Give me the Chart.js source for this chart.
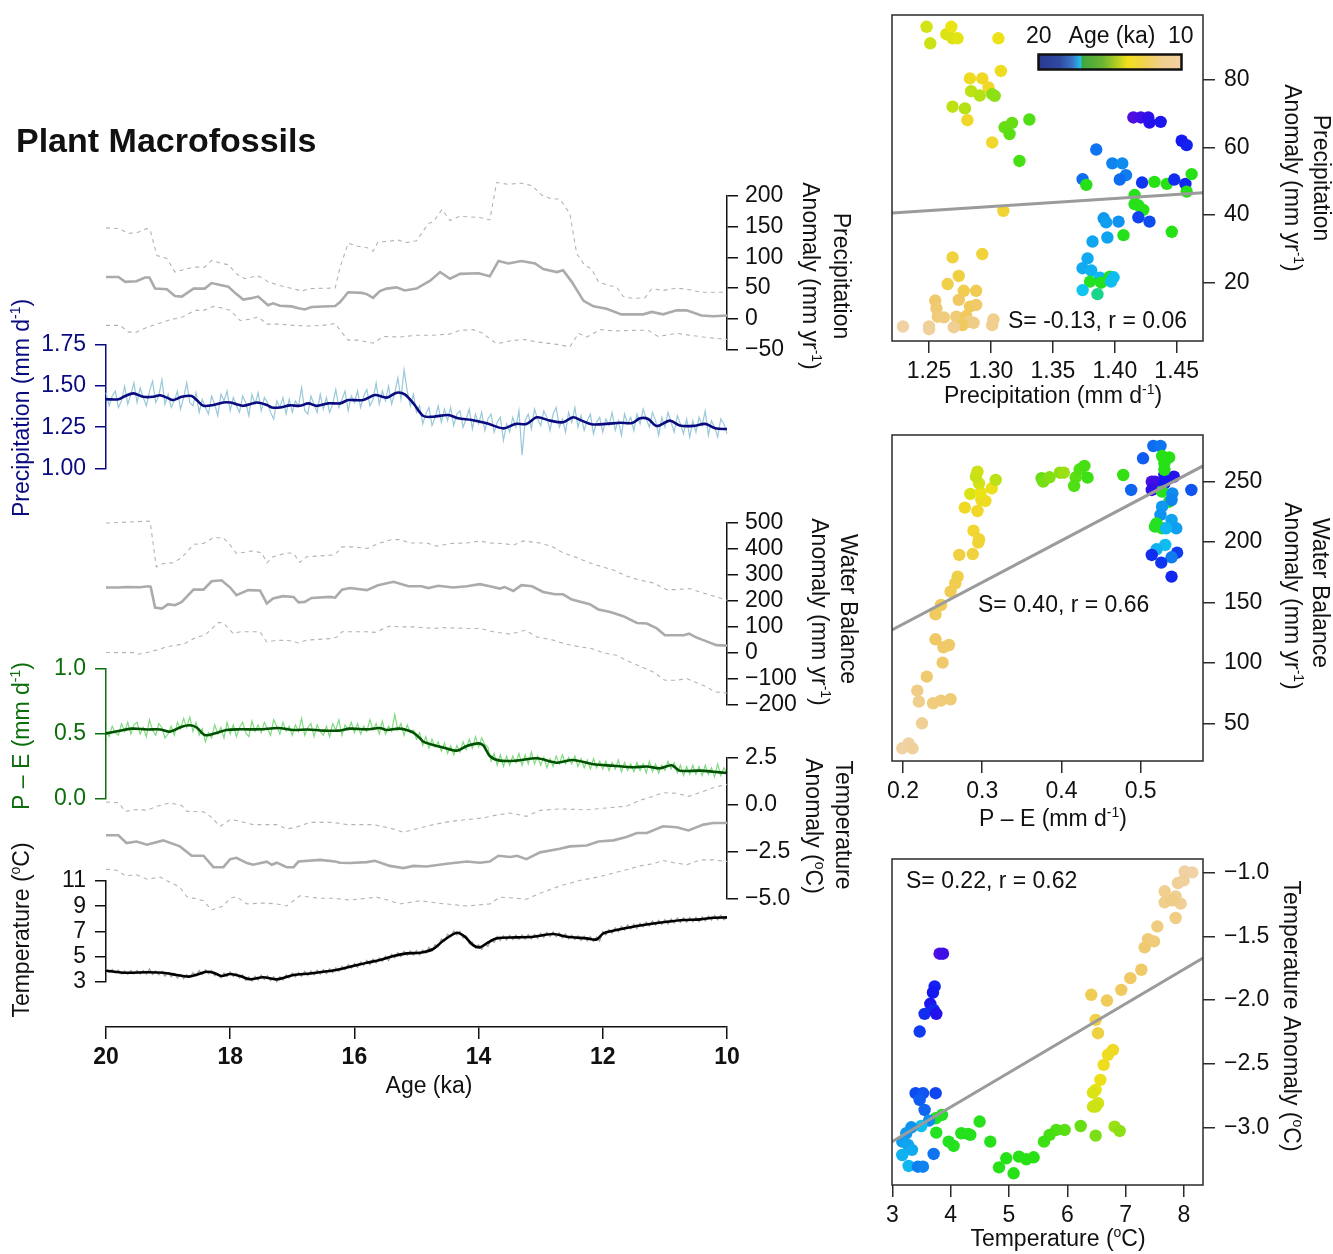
<!DOCTYPE html>
<html>
<head>
<meta charset="utf-8">
<script src="https://cdn.jsdelivr.net/npm/chart.js@4.4.0/dist/chart.umd.min.js"></script>
<style>
  html, body { margin: 0; background: #fff; }
  #page { position: relative; width: 1333px; height: 1254px; overflow: hidden; background: #fff; }
  #page canvas { position: absolute; left: 0; }
</style>
</head>
<body>
<div id="page"></div>
<script>
// ---- time axis ----
const ageTicks = [20, 18, 16, 14, 12, 10];
// noisy series are sampled every 50 yr from 20 ka to 10 ka
const noisyAge = Array.from({ length: 201 }, (_, i) => +(20 - i * 0.05).toFixed(2));

// ---- precipitation anomaly (mm/yr) ----
const precipAnomTicks = [200, 150, 100, 50, 0, -50];
const precipAnomAge = [20.00,19.80,19.69,19.51,19.37,19.30,19.21,19.02,18.89,18.78,18.59,18.41,18.30,18.16,18.03,17.90,17.79,17.68,17.55,17.39,17.31,17.20,17.01,16.90,16.80,16.69,16.31,16.23,16.10,15.88,15.80,15.70,15.59,15.48,15.32,15.19,15.00,14.78,14.62,14.46,14.30,14.00,13.82,13.68,13.52,13.31,13.09,12.96,12.74,12.64,12.50,12.31,12.15,11.94,11.70,11.35,11.21,11.03,10.81,10.65,10.41,10.22,10.00];
const precipAnomMean = [68,68,60,61,67,67,49,48,37,36,49,49,58,55,52,40,31,33,36,22,25,21,20,17,15,19,20.5,27,43,42,40,34,45,49,51,46,49,62,76,65,73,74,69,94,90,94,90,81,76,79,60,29,20,16,7,7,11,7,13.5,13.5,5,4,5];
const precipAnomHiAge = [20.00,19.80,19.64,19.51,19.34,19.29,19.18,19.02,18.89,18.78,18.59,18.41,18.30,18.14,18.03,17.90,17.76,17.57,17.47,17.39,17.20,17.04,16.85,16.71,16.31,16.23,16.10,15.94,15.80,15.70,15.62,15.48,15.29,15.16,15.00,14.81,14.73,14.59,14.46,14.30,13.98,13.82,13.71,13.52,13.33,13.14,12.98,12.82,12.69,12.53,12.42,12.29,12.18,12.07,11.91,11.78,11.67,11.51,11.32,11.21,11.03,10.81,10.60,10.41,10.00];
const precipAnomHi = [148,147,139,140,147,145,103,98,76,79,84,84,95,90,88,73,65,70,66,60,54,50,45,49,50,84,123,118,116,110,125,126,128,124,127,155,158,178,160,167,165,161,222,219,221,217,201,195,195,171,106,87,81,60,54,52,36,33,34,49,46,50,47,43,43];
const precipAnomLoAge = [20.00,19.77,19.64,19.51,19.34,19.18,18.97,18.76,18.57,18.43,18.27,18.16,18.00,17.84,17.68,17.55,17.41,17.20,16.98,16.77,16.50,16.31,16.23,16.10,15.94,15.70,15.53,15.27,15.00,14.73,14.46,14.30,14.09,13.95,13.71,13.49,13.25,13.06,12.74,12.53,12.39,12.26,12.04,11.83,11.45,11.27,11.11,10.81,10.60,10.38,10.00];
const precipAnomLo = [-11,-11,-22,-22,-14,-9,-2,3,13.5,13.5,20,18,13.5,-3,-1,3,-9,-9,-11,-12,-11,-8,-19,-35,-35,-40,-29,-30,-27,-27,-25,-19,-18,-23,-41,-36,-34,-38,-42,-46,-24,-30,-18,-20,-19,-19,-29,-24,-27,-30,-34];

// ---- precipitation (mm/d) ----
const precipTicks = [1.75, 1.50, 1.25, 1.00];
const precipSmoothAge = [20.00,19.80,19.69,19.56,19.40,19.24,19.13,19.02,18.92,18.78,18.62,18.54,18.43,18.27,18.11,18.00,17.90,17.79,17.57,17.41,17.33,17.20,17.04,16.88,16.74,16.61,16.42,16.23,16.10,15.86,15.67,15.48,15.32,15.19,15.05,14.89,14.73,14.49,14.33,14.11,13.87,13.60,13.41,13.23,13.06,12.85,12.64,12.48,12.34,12.18,11.94,11.72,11.53,11.40,11.27,11.13,10.92,10.76,10.54,10.35,10.19,10.00];
const precipSmooth = [1.42,1.42,1.44,1.456,1.435,1.435,1.444,1.43,1.415,1.435,1.44,1.415,1.38,1.385,1.40,1.40,1.39,1.38,1.40,1.385,1.37,1.37,1.383,1.38,1.395,1.38,1.395,1.395,1.415,1.415,1.446,1.43,1.46,1.45,1.395,1.318,1.314,1.324,1.304,1.294,1.274,1.243,1.27,1.27,1.31,1.29,1.28,1.31,1.29,1.268,1.27,1.277,1.275,1.304,1.30,1.257,1.29,1.26,1.258,1.27,1.243,1.239];
const precipNoisy = [
  1.46,1.38,1.44,1.47,1.37,1.41,1.50,1.39,1.45,1.52,
  1.40,1.49,1.43,1.38,1.47,1.53,1.40,1.44,1.54,1.39,
  1.45,1.37,1.41,1.47,1.36,1.43,1.52,1.40,1.38,1.46,
  1.34,1.42,1.37,1.33,1.44,1.39,1.32,1.45,1.41,1.47,
  1.35,1.43,1.38,1.34,1.44,1.40,1.32,1.45,1.39,1.46,
  1.35,1.43,1.40,1.34,1.30,1.41,1.37,1.43,1.33,1.42,
  1.34,1.41,1.38,1.49,1.35,1.33,1.44,1.39,1.34,1.45,
  1.36,1.43,1.34,1.39,1.48,1.37,1.42,1.47,1.35,1.44,
  1.40,1.47,1.37,1.44,1.48,1.38,1.42,1.52,1.39,1.47,
  1.41,1.50,1.39,1.46,1.55,1.42,1.60,1.47,1.38,1.45,
  1.34,1.38,1.27,1.33,1.37,1.26,1.31,1.38,1.28,1.36,
  1.29,1.37,1.26,1.33,1.35,1.25,1.30,1.36,1.24,1.33,
  1.27,1.34,1.23,1.30,1.33,1.22,1.28,1.31,1.17,1.27,
  1.22,1.31,1.25,1.35,1.08,1.29,1.33,1.24,1.36,1.30,
  1.26,1.35,1.31,1.23,1.33,1.37,1.25,1.30,1.22,1.34,
  1.28,1.37,1.25,1.32,1.23,1.29,1.33,1.21,1.28,1.31,
  1.22,1.30,1.26,1.34,1.23,1.29,1.20,1.33,1.27,1.31,
  1.23,1.33,1.27,1.36,1.30,1.25,1.34,1.29,1.20,1.31,
  1.25,1.34,1.28,1.22,1.32,1.27,1.21,1.30,1.19,1.29,
  1.22,1.31,1.26,1.35,1.20,1.29,1.25,1.19,1.30,1.27,
  1.21];

// ---- water balance anomaly (mm/yr) ----
const wbTicks = [500, 400, 300, 200, 100, 0, -100, -200];
const wbAge = [20.00,19.80,19.67,19.45,19.32,19.28,19.21,19.10,19.00,18.89,18.78,18.59,18.43,18.30,18.14,18.00,17.90,17.71,17.52,17.41,17.31,17.15,16.98,16.90,16.80,16.69,16.39,16.31,16.20,16.07,15.80,15.62,15.37,15.13,14.92,14.81,14.65,14.41,14.19,13.98,13.82,13.66,13.58,13.44,13.31,13.14,12.96,12.77,12.64,12.50,12.21,12.07,11.88,11.67,11.45,11.29,11.13,11.00,10.70,10.61,10.49,10.38,10.17,10.00];
const wbMean = [251,251,253,252,256,254,174,170,187,183,196,243,243,275,279,251,222,241,240,190,209,218,215,194,196,211,215,212,243,249,241,260,273,256,256,249,258,251,256,264,256,247,253,238,260,256,234,225,225,205,187,167,157,141,115,113,94,68,68,74,59,49,30,28];
const wbHiAge = [20.00,19.94,19.34,19.29,19.19,19.08,18.92,18.78,18.59,18.43,18.27,18.11,18.00,17.90,17.73,17.63,17.49,17.41,17.31,17.09,16.98,16.88,16.77,16.39,16.31,16.20,16.02,15.80,15.59,15.40,15.27,15.10,14.84,14.67,14.46,14.19,13.98,13.82,13.60,13.44,13.28,13.01,12.80,12.64,12.42,12.26,12.04,11.83,11.62,11.40,11.19,10.97,10.81,10.60,10.38,10.17,10.00];
const wbHi = [499,499,506,505,330,343,346,366,417,420,442,442,414,382,388,392,384,346,369,384,382,347,369,375,378,407,407,401,422,435,435,422,422,410,420,422,430,422,420,414,430,422,407,384,366,350,333,318,295,279,269,243,243,247,230,215,202];
const wbLoAge = [20.00,19.56,19.48,19.29,19.02,18.73,18.54,18.41,18.33,18.19,18.11,17.95,17.84,17.52,17.41,17.25,17.04,16.90,16.77,16.39,16.29,16.20,16.02,15.80,15.67,15.43,15.27,15.05,14.73,14.57,14.19,13.98,13.76,13.49,13.25,13.06,12.80,12.58,12.37,12.18,11.99,11.78,11.56,11.40,11.19,11.00,10.81,10.65,10.54,10.33,10.19,10.00];
const wbLo = [1.5,1,-5,4,23,36,61,68,85,117,115,74,81,81,42,49,47,38,49,55,60,81,81,81,79,103,100,100,94,97,94,94,81,72,87,61,49,33,23,17,0,-9,-35,-51,-73,-105,-105,-98,-110,-130,-150,-154];

// ---- P - E (mm/d) ----
const peTicks = [1.0, 0.5, 0.0];
const peSmoothAge = [20.00,19.80,19.59,19.34,19.13,18.97,18.78,18.65,18.54,18.41,18.24,18.06,17.84,17.52,17.23,16.98,16.75,16.50,16.26,16.07,15.80,15.59,15.48,15.29,15.16,15.05,14.94,14.89,14.73,14.57,14.35,14.19,14.00,13.92,13.82,13.66,13.39,13.06,12.74,12.48,12.15,11.83,11.51,11.29,11.08,10.89,10.76,10.43,10.22,10.00];
const peSmooth = [0.505,0.523,0.541,0.535,0.535,0.518,0.556,0.567,0.55,0.492,0.505,0.531,0.536,0.536,0.546,0.531,0.535,0.526,0.526,0.541,0.536,0.546,0.531,0.541,0.531,0.51,0.465,0.441,0.415,0.397,0.372,0.408,0.428,0.41,0.331,0.295,0.295,0.313,0.279,0.30,0.267,0.256,0.244,0.25,0.236,0.259,0.218,0.218,0.21,0.20];
const peNoisy = [
  .53,.48,.56,.51,.49,.58,.52,.59,.50,.57,
  .59,.50,.55,.48,.61,.53,.49,.58,.55,.47,
  .50,.56,.49,.59,.54,.62,.55,.63,.52,.59,
  .49,.54,.44,.51,.47,.57,.50,.55,.47,.59,
  .50,.57,.48,.55,.59,.51,.48,.60,.52,.57,
  .51,.59,.54,.49,.61,.56,.50,.59,.52,.56,
  .49,.57,.52,.62,.49,.55,.58,.48,.57,.52,
  .49,.56,.48,.58,.53,.61,.49,.57,.53,.59,
  .51,.58,.50,.56,.52,.61,.53,.58,.50,.60,
  .50,.56,.52,.65,.53,.58,.49,.57,.51,.53,
  .46,.51,.41,.48,.39,.46,.40,.44,.37,.43,
  .35,.41,.34,.41,.36,.44,.38,.46,.39,.48,
  .40,.47,.42,.40,.29,.35,.26,.34,.25,.33,
  .26,.33,.28,.35,.26,.34,.27,.36,.27,.33,
  .26,.32,.24,.31,.25,.33,.27,.34,.27,.32,
  .27,.33,.25,.31,.24,.30,.23,.31,.24,.29,
  .23,.29,.22,.28,.23,.30,.21,.28,.22,.27,
  .21,.28,.22,.27,.20,.29,.21,.27,.20,.26,
  .22,.29,.23,.28,.20,.26,.18,.25,.19,.26,
  .19,.25,.18,.26,.19,.24,.17,.27,.18,.24,
  .20];

// ---- temperature anomaly (deg C) ----
const tAnomTicks = [2.5, 0.0, -2.5, -5.0];
const tAnomAge = [20.00,19.80,19.67,19.51,19.34,19.08,18.81,18.62,18.43,18.27,18.11,18.00,17.90,17.73,17.63,17.41,17.33,17.25,17.09,16.98,16.90,16.55,16.31,16.23,16.07,15.80,15.67,15.43,15.21,15.05,14.84,14.51,14.19,13.98,13.82,13.68,13.49,13.38,13.23,13.01,12.69,12.53,12.26,12.07,11.83,11.62,11.45,11.29,11.03,10.81,10.62,10.38,10.22,10.00];
const tAnomMean = [-1.64,-1.64,-2.05,-1.97,-2.14,-1.91,-2.23,-2.73,-2.73,-3.34,-3.34,-2.91,-2.84,-3.12,-3.21,-3.05,-3.21,-3.1,-3.34,-3.34,-3.04,-2.95,-3.04,-3.1,-3.12,-3.07,-3.0,-3.27,-3.39,-3.27,-3.30,-3.16,-3.04,-3.1,-3.04,-2.73,-2.80,-2.73,-2.91,-2.55,-2.36,-2.23,-2.18,-1.97,-1.91,-1.73,-1.52,-1.52,-1.16,-1.21,-1.38,-1.07,-0.98,-0.98];
const tAnomHiAge = [20.00,19.80,19.69,19.51,19.34,19.18,18.97,18.78,18.70,18.43,18.33,18.16,18.00,17.90,17.63,17.25,17.09,16.93,16.71,16.34,16.12,15.70,15.43,15.21,15.05,14.95,14.73,14.46,14.19,13.92,13.76,13.49,13.23,13.01,12.69,12.26,11.94,11.62,11.40,11.19,11.03,10.81,10.62,10.38,10.17,10.00];
const tAnomHi = [0.14,0.1,-0.36,-0.27,-0.3,-0.09,0.09,-0.05,-0.36,-0.39,-0.6,-1.16,-0.80,-0.85,-1.07,-1.07,-1.30,-1.2,-0.95,-0.95,-1.07,-1.07,-1.25,-1.48,-1.34,-1.25,-1.07,-0.9,-0.80,-0.71,-0.59,-0.45,-0.63,-0.31,-0.23,-0.28,-0.18,-0.09,0.23,0.44,0.63,0.6,0.44,0.71,0.95,1.07];
const tAnomLoAge = [20.00,19.83,19.69,19.51,19.34,19.13,18.81,18.70,18.43,18.30,18.11,18.00,17.90,17.73,17.47,17.25,17.09,16.88,16.55,16.34,16.07,15.64,15.43,15.27,14.94,14.62,14.19,13.82,13.66,13.39,13.23,13.01,12.69,12.37,12.04,11.88,11.62,11.40,11.19,11.03,10.86,10.65,10.43,10.22,10.00];
const tAnomLo = [-3.45,-3.5,-3.80,-3.75,-3.98,-3.87,-4.41,-4.91,-5.13,-5.62,-5.41,-5.0,-4.91,-5.30,-5.25,-5.3,-5.41,-4.87,-5.0,-5.0,-5.09,-4.94,-5.13,-5.30,-5.13,-5.27,-5.41,-5.30,-4.94,-5.0,-5.05,-4.73,-4.34,-4.05,-3.84,-3.70,-3.48,-3.27,-3.16,-2.98,-3.1,-3.21,-2.95,-2.95,-3.04];

// ---- temperature (deg C) ----
const tempTicks = [11, 9, 7, 5, 3];
const tempSmoothAge = [20.00,19.67,19.34,19.08,18.86,18.67,18.54,18.38,18.27,18.14,18.00,17.84,17.68,17.47,17.25,16.98,16.71,16.50,16.29,16.02,15.80,15.59,15.37,15.16,14.94,14.73,14.57,14.35,14.22,14.09,13.98,13.87,13.71,13.39,13.12,12.80,12.58,12.26,12.10,11.99,11.78,11.51,11.24,10.97,10.70,10.43,10.22,10.00];
const tempSmooth = [3.87,3.71,3.75,3.71,3.53,3.40,3.55,3.79,3.72,3.45,3.61,3.45,3.19,3.35,3.19,3.53,3.65,3.79,3.93,4.25,4.51,4.72,5.04,5.25,5.30,5.60,6.25,6.89,6.57,5.91,5.73,6.05,6.44,6.52,6.57,6.79,6.57,6.44,6.36,6.84,7.10,7.37,7.58,7.76,7.90,7.95,8.08,8.11];
const tempNoisy = [
  4.02,3.72,3.98,3.68,3.92,3.60,3.86,3.58,3.90,3.62,
  3.90,3.61,3.89,3.59,4.02,3.58,3.86,3.55,3.81,3.44,
  3.72,3.39,3.66,3.30,3.58,3.24,3.57,3.34,3.72,3.49,
  3.88,3.58,3.94,3.62,3.89,3.46,3.67,3.31,3.69,3.42,
  3.78,3.41,3.68,3.29,3.55,3.10,3.38,3.04,3.44,3.14,
  3.52,3.18,3.47,3.08,3.40,2.99,3.39,3.13,3.55,3.30,
  3.69,3.37,3.73,3.44,3.82,3.47,3.85,3.54,3.92,3.60,
  3.96,3.64,4.03,3.72,4.11,3.82,4.23,3.95,4.36,4.06,
  4.44,4.13,4.56,4.28,4.69,4.36,4.79,4.49,4.89,4.60,
  5.03,4.68,5.18,4.89,5.31,4.99,5.42,5.08,5.46,5.11,
  5.48,5.13,5.53,5.27,5.73,5.44,5.94,5.77,6.39,6.22,
  6.78,6.57,7.03,6.70,6.99,6.46,6.64,6.01,6.14,5.67,
  5.93,5.56,6.00,5.80,6.33,6.12,6.60,6.27,6.65,6.31,
  6.68,6.33,6.70,6.35,6.72,6.37,6.74,6.39,6.77,6.44,
  6.84,6.52,6.92,6.59,6.96,6.57,6.88,6.48,6.80,6.39,
  6.71,6.35,6.65,6.27,6.62,6.24,6.58,6.20,6.55,6.22,
  7.00,6.72,7.15,6.86,7.28,6.98,7.40,7.10,7.51,7.19,
  7.58,7.22,7.66,7.34,7.74,7.42,7.81,7.49,7.88,7.55,
  7.94,7.58,7.99,7.66,8.05,7.71,8.08,7.73,8.10,7.75,
  8.12,7.77,8.15,7.82,8.21,7.88,8.26,7.91,8.28,7.92,
  8.11];

// ---- scatter: precipitation vs precipitation anomaly ----
const topX = [1.248,1.251,1.264,1.268,1.269,1.273,1.306,1.308,1.283,1.293,1.298,1.284,1.291,1.301,1.303,1.269,1.279,1.281,1.311,1.317,1.315,1.331,1.301,1.323,1.310,
  1.415,1.421,1.427,1.428,1.437,1.454,1.458,1.385,1.398,1.406,1.409,1.404,1.374,1.377,1.422,1.432,1.442,1.448,1.457,1.462,1.458,1.416,1.416,1.419,1.423,1.419,1.428,1.391,1.393,1.403,1.407,1.394,1.382,1.446,1.378,1.374,1.381,1.388,1.396,1.399,1.380,1.389,1.397,1.374,1.386,
  1.269,1.293,1.274,1.265,1.278,1.288,1.274,1.255,1.283,1.288,1.256,1.257,1.262,1.272,1.280,1.282,1.277,1.286,1.302,1.301,1.229,1.250,1.250,1.270];
const topY = [95.8,90.9,93.6,95.8,92.4,92.4,92.4,82.7,80.5,80.5,77.8,76.7,75.4,75.8,75.3,72.1,71.6,68.1,66.0,67.3,64.0,68.3,61.5,56.0,41.2,
  68.9,68.9,68.9,67.4,67.6,62.0,60.7,59.4,55.3,55.3,51.8,50.5,50.6,48.9,49.6,49.8,49.2,50.5,49.2,52.1,46.9,45.9,43.2,42.8,41.5,39.3,38.0,39.0,37.8,38.0,34.0,33.3,32.1,35.0,27.1,24.2,23.5,21.4,21.7,21.5,20.2,19.9,20.2,17.7,16.5,
  27.4,28.4,21.9,19.5,17.5,17.5,14.8,14.6,12.8,13.3,12.3,9.8,9.6,9.8,10.0,8.3,7.3,8.0,9.0,7.3,6.9,6.9,6.1,6.7];
const topAge = [13.6,13.7,13.5,13.3,13.5,13.4,13.2,12.9,12.8,12.7,12.6,13.9,14.0,14.3,14.3,13.9,14.0,12.6,14.6,14.6,14.7,14.8,12.5,14.9,12.4,
  20.0,19.9,19.8,19.7,19.6,19.5,19.4,18.3,18.1,18.0,18.2,18.4,18.4,15.6,19.1,15.3,15.2,19.2,19.3,15.3,15.4,16.0,15.9,15.8,15.7,18.9,18.8,17.8,17.7,17.9,16.1,17.6,17.6,15.5,17.5,17.5,17.4,17.3,16.4,17.2,16.7,16.5,17.2,17.1,17.0,
  12.2,12.3,12.1,12.0,11.9,11.8,11.5,11.3,11.7,11.4,11.2,11.0,10.9,11.1,11.6,10.8,11.6,10.7,10.6,10.5,10.0,10.3,10.2,10.4];
const topFitX = [1.2201, 1.4712];
const topFitY = [40.6, 46.6];

// ---- scatter: P - E vs water balance anomaly ----
const midX = [0.199,0.207,0.212,0.224,0.220,0.218,0.238,0.248,0.260,0.230,0.250,0.241,0.251,0.258,0.241,0.248,0.260,0.266,0.269,0.271,0.288,0.295,0.296,0.289,0.278,0.294,0.304,0.299,0.312,0.285,0.298,0.296,0.292,0.294,0.317,
  0.375,0.377,0.385,0.398,0.403,0.418,0.423,0.429,0.416,0.433,0.478,
  0.503,0.516,0.525,0.488,0.564,0.514,0.518,0.514,0.530,0.542,0.530,0.527,0.536,0.530,0.530,0.527,0.536,0.540,0.539,0.527,0.525,0.520,0.518,0.527,0.539,0.545,0.532,0.531,0.520,0.546,0.514,0.539,0.526,0.539];
const midY = [29.3,33.4,29.3,50.0,67.9,77.0,66.6,68.8,69.9,88.6,100.2,119.5,112.9,114.8,140.2,147.9,159.0,165.9,171.4,189.3,190.1,199.5,202.3,209.4,228.5,225.7,234.0,234.8,244.5,239.8,240.9,248.6,254.1,258.3,251.4,
  252.8,250.0,253.6,257.4,257.4,253.6,260.2,263.0,246.4,253.3,255.5,
  269.3,279.5,279.5,243.1,243.1,250.0,250.0,243.1,255.5,254.1,248.6,271.2,270.1,265.2,259.7,241.7,233.4,240.3,234.8,229.3,222.4,215.5,212.8,211.4,218.3,211.4,211.4,197.6,194.0,191.2,189.3,187.4,183.0,171.4];
const midAge = [10.0,10.1,10.2,10.4,10.6,10.7,10.9,11.0,11.1,11.2,11.3,11.5,11.4,11.4,11.6,11.7,11.8,11.9,12.0,12.1,12.2,12.3,12.4,12.5,12.7,12.6,12.9,12.8,13.1,13.5,13.3,13.6,13.8,13.7,13.9,
  14.6,14.5,14.4,14.3,14.2,14.7,14.8,14.9,14.8,15.0,15.1,
  18.6,18.4,18.3,18.5,18.7,20.0,19.9,19.8,19.6,19.7,19.5,15.3,15.4,15.5,15.6,16.0,16.2,18.0,18.1,17.8,17.9,16.5,16.7,16.4,17.6,17.7,17.3,17.2,17.4,19.0,19.2,18.2,19.1,19.3];
const midFitX = [0.1861, 0.5787];
const midFitY = [127.2, 263.0];

// ---- scatter: temperature vs temperature anomaly ----
const botX = [8.011,8.143,7.897,7.994,7.669,7.669,7.857,7.943,7.800,7.857,7.543,7.383,7.486,7.326,7.269,7.080,6.926,6.680,6.411,6.486,6.526,6.783,6.697,6.623,6.566,6.486,6.440,6.526,6.486,6.440,
  6.811,6.897,6.486,6.229,5.954,5.811,5.697,5.600,5.423,5.297,5.171,5.080,4.954,4.829,4.680,4.497,4.337,4.297,4.183,4.051,3.966,3.754,3.743,3.851,
  3.811,3.869,3.726,3.697,3.651,3.709,3.554,3.754,3.469,3.400,3.526,3.743,3.469,3.554,3.629,3.497,3.326,3.240,3.171,3.269,3.337,3.171,3.709,3.280,3.440,3.526];
const botY = [-0.987,-0.995,-1.079,-1.058,-1.144,-1.231,-1.184,-1.241,-1.215,-1.354,-1.420,-1.520,-1.538,-1.585,-1.761,-1.827,-1.919,-2.003,-1.958,-2.155,-2.260,-2.391,-2.430,-2.509,-2.627,-2.706,-2.727,-2.811,-2.837,-2.837,
  -2.995,-3.029,-3.066,-2.990,-3.021,-3.021,-3.060,-3.113,-3.236,-3.252,-3.231,-3.362,-3.244,-3.315,-3.113,-2.955,-3.060,-3.052,-3.047,-3.147,-3.113,-3.042,-2.929,-2.903,
  -1.635,-1.635,-1.892,-1.940,-2.029,-2.076,-2.108,-2.108,-2.247,-2.732,-2.732,-2.732,-2.785,-2.864,-2.948,-2.990,-3.000,-3.047,-3.113,-3.139,-3.178,-3.218,-3.210,-3.304,-3.310,-3.310];
const botAge = [10.1,10.0,10.3,10.2,10.5,10.6,10.4,10.4,10.7,10.8,10.9,11.1,11.0,11.2,11.4,11.5,11.6,11.7,11.8,12.0,12.1,12.7,12.8,12.9,13.1,13.4,13.5,13.6,13.7,13.7,
  14.2,14.3,14.45,14.6,14.7,14.8,14.9,15.0,15.2,15.3,15.4,15.5,15.6,15.7,15.9,16.0,16.1,16.2,16.3,16.4,16.5,16.7,16.9,16.8,
  20.0,19.9,19.4,19.5,19.6,19.3,19.2,19.7,19.0,18.8,18.7,18.9,18.6,18.5,18.0,17.2,17.9,17.8,17.7,17.6,17.5,17.4,18.3,17.3,18.2,18.1];
const botFitX = [2.995, 8.326];
const botFitY = [-3.113, -1.669];

// ---------------------------------------------------------------
const W = 1333, H = 1254;
const OFF = 60;                    // every canvas reaches OFF px above the page so top labels have room
const X0 = 106, X1 = 727;          // time-axis plot span
const FONT = '"Liberation Sans", Arial, Helvetica, sans-serif';
const NAVY = '#0b0b80', GREEN = '#0c6e0c', INK = '#111';
const MEAN_GREY = '#ababab', DASH_GREY = '#b3b3b3';

Chart.defaults.font.family = FONT;
Chart.defaults.font.size = 23;
Chart.defaults.animation = false;
Chart.defaults.responsive = false;
Chart.defaults.events = [];
Chart.defaults.plugins.legend.display = false;
Chart.defaults.plugins.tooltip.enabled = false;
Chart.defaults.elements.point.radius = 0;

const pts = (xs, ys) => xs.map((x, i) => ({ x, y: ys[i] }));
const fmt = (v, d) => (v < 0 ? '\u2212' : '') + Math.abs(v).toFixed(d);

// age -> dot colour for the scatter panels
const ageStops = [
  [20.0, [80, 15, 225]], [19.75, [40, 15, 235]], [19.5, [20, 25, 240]], [19.0, [15, 60, 240]],
  [18.5, [15, 100, 240]], [18.0, [15, 140, 240]], [17.5, [15, 170, 240]], [17.05, [15, 200, 240]],
  [16.95, [35, 225, 35]], [15.2, [40, 225, 20]], [14.7, [90, 222, 20]], [14.0, [180, 225, 20]],
  [13.3, [235, 228, 20]], [12.6, [240, 215, 40]], [11.5, [240, 200, 100]], [10.0, [240, 210, 165]]
];
function ageColor(a) {
  for (let i = 0; i < ageStops.length - 1; i++) {
    const [a0, c0] = ageStops[i], [a1, c1] = ageStops[i + 1];
    if (a <= a0 && a >= a1) {
      const t = (a0 - a) / (a0 - a1);
      return 'rgb(' + c0.map((v, k) => Math.round(v + (c1[k] - v) * t)).join(',') + ')';
    }
  }
  return 'rgb(240,210,165)';
}

// text with ^{...} superscripts, optionally rotated (page coordinates)
function drawRich(ctx, it) {
  const size = it.size || 23;
  const w8 = it.bold ? 'bold ' : '';
  const big = w8 + size + 'px ' + FONT;
  const small = w8 + Math.round(size * 0.62) + 'px ' + FONT;
  const parts = [];
  it.s.split(/(\^\{[^}]*\})/).forEach(p => {
    if (!p) return;
    const m = p.match(/^\^\{(.*)\}$/);
    parts.push(m ? { t: m[1], sup: true } : { t: p });
  });
  ctx.save();
  let w = 0;
  parts.forEach(p => { ctx.font = p.sup ? small : big; p.w = ctx.measureText(p.t).width; w += p.w; });
  ctx.translate(it.x, it.y + OFF);
  if (it.rot) ctx.rotate(it.rot * Math.PI / 180);
  ctx.fillStyle = it.color || INK;
  ctx.textBaseline = 'middle';
  ctx.textAlign = 'left';
  let x = it.align === 'left' ? 0 : it.align === 'right' ? -w : -w / 2;
  parts.forEach(p => {
    ctx.font = p.sup ? small : big;
    ctx.fillText(p.t, x, p.sup ? -size * 0.3 : 0);
    x += p.w;
  });
  ctx.restore();
}

const overlay = {
  id: 'overlay',
  afterDraw(chart, args, opts) {
    const ctx = chart.ctx;
    if (opts.frame) {
      const a = chart.chartArea;
      ctx.save();
      ctx.strokeStyle = '#2a2a2a';
      ctx.lineWidth = 1.5;
      ctx.strokeRect(a.left, a.top, a.right - a.left, a.bottom - a.top);
      ctx.restore();
    }
    if (opts.colorbar) {
      const c = opts.colorbar;
      ctx.save();
      const g = ctx.createLinearGradient(c.x0, 0, c.x1, 0);
      c.stops.forEach(([p, col]) => g.addColorStop(p, col));
      ctx.fillStyle = g;
      ctx.fillRect(c.x0, c.y0 + OFF, c.x1 - c.x0, c.y1 - c.y0);
      ctx.lineWidth = 2.5;
      ctx.strokeStyle = INK;
      ctx.strokeRect(c.x0, c.y0 + OFF, c.x1 - c.x0, c.y1 - c.y0);
      ctx.restore();
    }
    (opts.texts || []).forEach(t => drawRich(ctx, t));
  }
};

function addCanvas() {
  const c = document.createElement('canvas');
  c.width = W; c.height = H + OFF;
  c.style.top = (-OFF) + 'px';
  document.getElementById('page').appendChild(c);
  return c;
}

// one stacked time-series panel: its own y axis on the left or right, shared age range
function seriesChart(o) {
  const left = o.side === 'left';
  return new Chart(addCanvas(), {
    type: 'line',
    data: { datasets: o.datasets },
    options: {
      layout: { padding: { top: o.top + OFF, bottom: H - o.bottom, left: left ? 0 : X0, right: left ? W - X1 : W - X1 - 153 } },
      scales: {
        x: { type: 'linear', min: 10, max: 20, reverse: true, display: false },
        y: {
          type: 'linear', position: o.side, min: o.min, max: o.max,
          afterFit: s => { s.width = left ? X0 : 153; },
          afterBuildTicks: s => { s.ticks = o.ticks.map(v => ({ value: v })); },
          grid: { drawOnChartArea: false, color: o.axisColor, lineWidth: 1.5, tickLength: 11 },
          border: { color: o.axisColor, width: 1.5 },
          ticks: { color: o.axisColor, padding: left ? 9 : 7, autoSkip: false, callback: v => fmt(v, o.dec) }
        }
      },
      plugins: { overlay: { texts: o.texts } }
    },
    plugins: [overlay]
  });
}

const meanLine = (xs, ys) => ({ data: pts(xs, ys), borderColor: MEAN_GREY, borderWidth: 2.6, clip: false });
const dashLine = (xs, ys) => ({ data: pts(xs, ys), borderColor: DASH_GREY, borderWidth: 1.1, borderDash: [4, 4], clip: false });

seriesChart({
  side: 'right', top: 196, bottom: 349.3, min: -50, max: 200, ticks: precipAnomTicks, dec: 0, axisColor: INK,
  datasets: [meanLine(precipAnomAge, precipAnomMean), dashLine(precipAnomHiAge, precipAnomHi), dashLine(precipAnomLoAge, precipAnomLo)],
  texts: [
    { x: 840, y: 276, s: 'Precipitation', rot: 90 },
    { x: 809, y: 276, s: 'Anomaly (mm yr^{-1})', rot: 90 }
  ]
});

seriesChart({
  side: 'left', top: 345, bottom: 468.3, min: 1.0, max: 1.75, ticks: precipTicks, dec: 2, axisColor: NAVY,
  datasets: [
    { data: pts(precipSmoothAge, precipSmooth), borderColor: NAVY, borderWidth: 2.6, tension: 0.3, clip: false },
    { data: pts(noisyAge, precipNoisy), borderColor: '#98c8da', borderWidth: 1.2, clip: false }
  ],
  texts: [{ x: 23, y: 408, s: 'Precipitation (mm d^{-1})', rot: -90, color: NAVY }]
});

seriesChart({
  side: 'right', top: 522.7, bottom: 705, min: -200, max: 500, ticks: wbTicks, dec: 0, axisColor: INK,
  datasets: [meanLine(wbAge, wbMean), dashLine(wbHiAge, wbHi), dashLine(wbLoAge, wbLo)],
  texts: [
    { x: 847, y: 609, s: 'Water Balance', rot: 90 },
    { x: 818, y: 612, s: 'Anomaly (mm yr^{-1})', rot: 90 }
  ]
});

seriesChart({
  side: 'left', top: 669, bottom: 799, min: 0, max: 1.0, ticks: peTicks, dec: 1, axisColor: GREEN,
  datasets: [
    { data: pts(peSmoothAge, peSmooth), borderColor: '#005200', borderWidth: 2.6, tension: 0.3, clip: false },
    { data: pts(noisyAge, peNoisy), borderColor: '#7fdb7f', borderWidth: 1.2, clip: false }
  ],
  texts: [{ x: 23, y: 736, s: 'P \u2013 E (mm d^{-1})', rot: -90, color: GREEN }]
});

seriesChart({
  side: 'right', top: 757.7, bottom: 898.3, min: -5, max: 2.5, ticks: tAnomTicks, dec: 1, axisColor: INK,
  datasets: [meanLine(tAnomAge, tAnomMean), dashLine(tAnomHiAge, tAnomHi), dashLine(tAnomLoAge, tAnomLo)],
  texts: [
    { x: 842, y: 825, s: 'Temperature', rot: 90 },
    { x: 812, y: 826, s: 'Anomaly (^{o}C)', rot: 90 }
  ]
});

seriesChart({
  side: 'left', top: 881, bottom: 981.7, min: 3, max: 11, ticks: tempTicks, dec: 0, axisColor: INK,
  datasets: [
    { data: pts(tempSmoothAge, tempSmooth), borderColor: '#000', borderWidth: 2.6, tension: 0.3, clip: false },
    { data: pts(noisyAge, tempNoisy), borderColor: '#a0a0a0', borderWidth: 1.2, clip: false }
  ],
  texts: [{ x: 23, y: 930, s: 'Temperature (^{o}C)', rot: -90 }]
});

// shared age axis
new Chart(addCanvas(), {
  type: 'line',
  data: { datasets: [] },
  options: {
    layout: { padding: { top: 1000 + OFF, bottom: 0, left: X0, right: W - X1 } },
    scales: {
      x: {
        type: 'linear', position: 'bottom', min: 10, max: 20, reverse: true,
        afterFit: s => { s.height = H - 1027; },
        afterBuildTicks: s => { s.ticks = ageTicks.map(v => ({ value: v })); },
        grid: { drawOnChartArea: false, color: INK, lineWidth: 1.5, tickLength: 12 },
        border: { color: INK, width: 1.5 },
        ticks: { color: INK, padding: 5, autoSkip: false, maxRotation: 0, font: { weight: 'bold' }, callback: v => String(v) }
      },
      y: { display: false }
    },
    plugins: {
      overlay: {
        texts: [
          { x: 429, y: 1087, s: 'Age (ka)' },
          { x: 16, y: 143, s: 'Plant Macrofossils', bold: true, size: 34, align: 'left' }
        ]
      }
    }
  },
  plugins: [overlay]
});

// scatter panels on the right
function scatterChart(o) {
  return new Chart(addCanvas(), {
    type: 'scatter',
    data: {
      datasets: [
        { type: 'line', data: pts(o.fitX, o.fitY), borderColor: '#9b9b9b', borderWidth: 3, pointRadius: 0 },
        {
          data: pts(o.xs, o.ys), pointRadius: 6.2, pointBorderWidth: 0,
          pointBackgroundColor: o.ages.map(ageColor), pointBorderColor: o.ages.map(ageColor)
        }
      ]
    },
    options: {
      layout: { padding: { left: o.left, top: o.top + OFF, right: W - o.right - 130, bottom: 0 } },
      scales: {
        x: {
          type: 'linear', position: 'bottom', min: o.xmin, max: o.xmax,
          afterFit: s => { s.height = H - o.bottom; },
          afterBuildTicks: s => { s.ticks = o.xticks.map(v => ({ value: v })); },
          grid: { drawOnChartArea: false, color: '#2a2a2a', lineWidth: 1.5, tickLength: 12 },
          border: { display: false },
          ticks: { color: INK, padding: 5, autoSkip: false, maxRotation: 0, callback: v => fmt(v, o.xdec) }
        },
        y: {
          type: 'linear', position: 'right', min: o.ymin, max: o.ymax,
          afterFit: s => { s.width = 130; },
          afterBuildTicks: s => { s.ticks = o.yticks.map(v => ({ value: v })); },
          grid: { drawOnChartArea: false, color: '#2a2a2a', lineWidth: 1.5, tickLength: 12 },
          border: { display: false },
          ticks: { color: INK, padding: 9, autoSkip: false, callback: v => fmt(v, o.ydec) }
        }
      },
      plugins: { overlay: { frame: true, texts: o.texts, colorbar: o.colorbar } }
    },
    plugins: [overlay]
  });
}

scatterChart({
  left: 892, right: 1203, top: 15, bottom: 341,
  xmin: 1.2201, xmax: 1.4712, ymin: 2.6, ymax: 99.3,
  xticks: [1.25, 1.30, 1.35, 1.40, 1.45], xdec: 2, yticks: [20, 40, 60, 80], ydec: 0,
  xs: topX, ys: topY, ages: topAge, fitX: topFitX, fitY: topFitY,
  colorbar: {
    x0: 1038.5, x1: 1181.5, y0: 54.5, y1: 69.5,
    stops: [[0, '#2b388f'], [0.15, '#2f4aa2'], [0.24, '#3a78c8'], [0.295, '#22c0ea'], [0.305, '#3fa63f'],
            [0.45, '#6cb632'], [0.55, '#b4cf22'], [0.62, '#f0e11c'], [0.74, '#f0d24e'], [0.86, '#f1d08e'], [1, '#f2d0a4']]
  },
  texts: [
    { x: 1053, y: 397, s: 'Precipitation (mm d^{-1})' },
    { x: 1320, y: 178, s: 'Precipitation', rot: 90 },
    { x: 1291, y: 178, s: 'Anomaly (mm yr^{-1})', rot: 90 },
    { x: 1008, y: 322, s: 'S= -0.13, r = 0.06', align: 'left' },
    { x: 1026, y: 37, s: '20', align: 'left' },
    { x: 1112, y: 37, s: 'Age (ka)' },
    { x: 1168, y: 37, s: '10', align: 'left' }
  ]
});

scatterChart({
  left: 892, right: 1203, top: 435, bottom: 761,
  xmin: 0.1861, xmax: 0.5787, ymin: 18.8, ymax: 288.6,
  xticks: [0.2, 0.3, 0.4, 0.5], xdec: 1, yticks: [50, 100, 150, 200, 250], ydec: 0,
  xs: midX, ys: midY, ages: midAge, fitX: midFitX, fitY: midFitY,
  texts: [
    { x: 1053, y: 820, s: 'P \u2013 E (mm d^{-1})' },
    { x: 1319, y: 593, s: 'Water Balance', rot: 90 },
    { x: 1291, y: 596, s: 'Anomaly (mm yr^{-1})', rot: 90 },
    { x: 978, y: 606, s: 'S= 0.40, r = 0.66', align: 'left' }
  ]
});

scatterChart({
  left: 892, right: 1203, top: 859, bottom: 1185,
  xmin: 2.995, xmax: 8.326, ymin: -3.454, ymax: -0.89,
  xticks: [3, 4, 5, 6, 7, 8], xdec: 0, yticks: [-3.0, -2.5, -2.0, -1.5, -1.0], ydec: 1,
  xs: botX, ys: botY, ages: botAge, fitX: botFitX, fitY: botFitY,
  texts: [
    { x: 1058, y: 1240, s: 'Temperature (^{o}C)' },
    { x: 1290, y: 1016, s: 'Temperature Anomaly (^{o}C)', rot: 90 },
    { x: 906, y: 882, s: 'S= 0.22, r = 0.62', align: 'left' }
  ]
});
</script>
</body>
</html>
